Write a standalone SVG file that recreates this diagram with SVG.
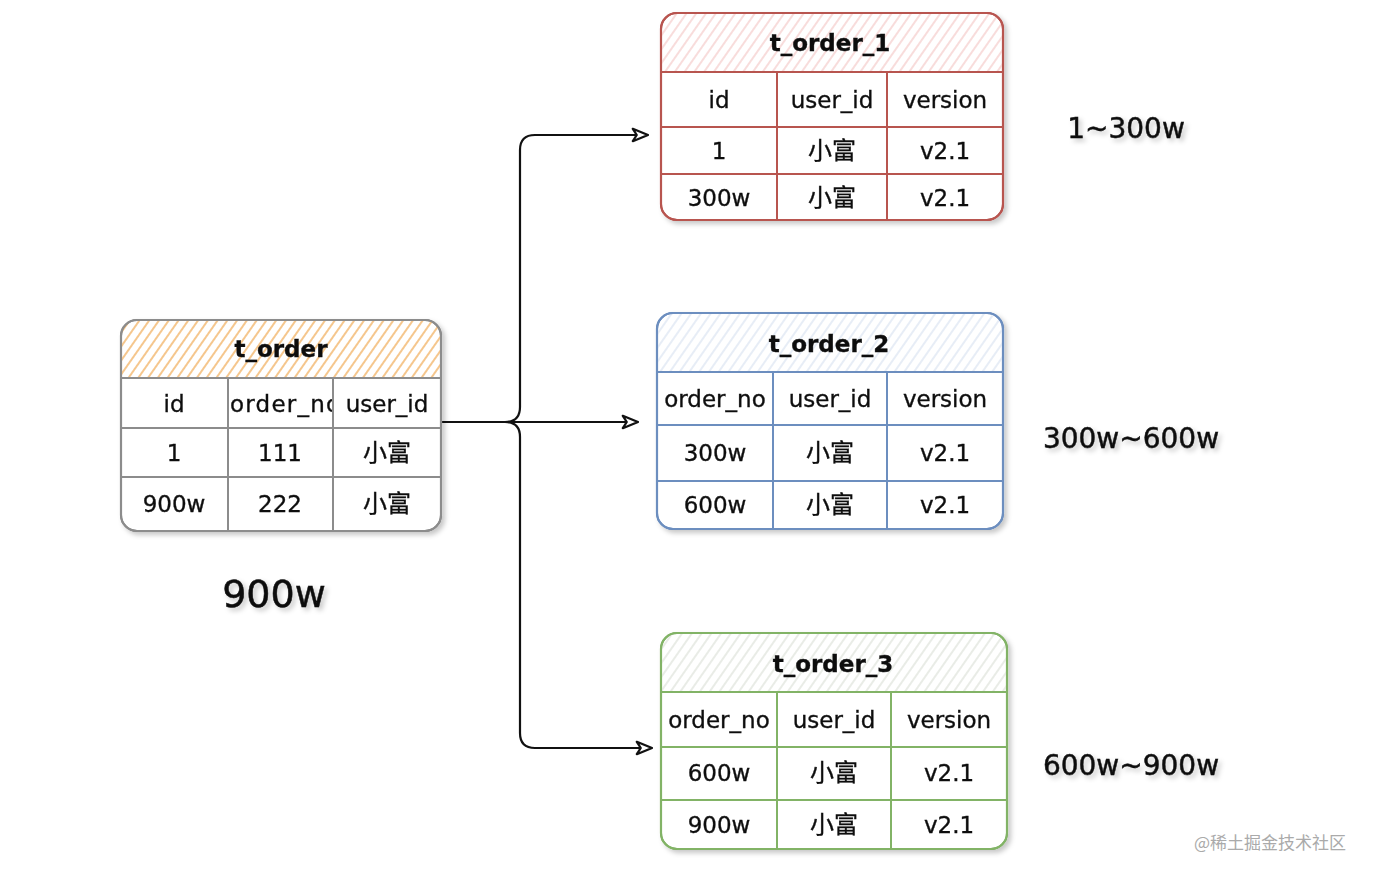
<svg xmlns="http://www.w3.org/2000/svg" width="1374" height="876" viewBox="0 0 1374 876">
<style>
.t{font-family:"DejaVu Sans","Noto Sans CJK SC",sans-serif;font-size:23px;fill:#111;stroke:#111;stroke-width:0.35;text-anchor:middle;dominant-baseline:central}
.h{font-weight:bold}
.cn{font-size:24px}
.big{font-family:"DejaVu Sans",sans-serif;font-size:28px;fill:#111;stroke:#111;stroke-width:0.5;text-anchor:middle;dominant-baseline:central}
.conn{fill:none;stroke:#111;stroke-width:2.2}
.g{stroke:#8c8c8c}
.r{stroke:#b85450}
.b{stroke:#6c8ebf}
.gr{stroke:#82b366}
.box{fill:#fff;stroke-width:2.2}
.ln{stroke-width:2;fill:none}
</style>
<defs>
<filter id="sh" x="-10%" y="-10%" width="130%" height="130%">
<feDropShadow dx="3" dy="3" stdDeviation="2.5" flood-color="#000" flood-opacity="0.22"/>
</filter>
<pattern id="ho" width="8" height="8" patternUnits="userSpaceOnUse" patternTransform="rotate(35)"><line x1="2" y1="0" x2="2" y2="8" stroke="#f0a850" stroke-width="1.3"/></pattern>
<pattern id="hr" width="8" height="8" patternUnits="userSpaceOnUse" patternTransform="rotate(35)"><line x1="2" y1="0" x2="2" y2="8" stroke="#f2c0be" stroke-width="1.1"/></pattern>
<pattern id="hb" width="8" height="8" patternUnits="userSpaceOnUse" patternTransform="rotate(35)"><line x1="2" y1="0" x2="2" y2="8" stroke="#d3deee" stroke-width="1.1"/></pattern>
<pattern id="hg" width="8" height="8" patternUnits="userSpaceOnUse" patternTransform="rotate(35)"><line x1="2" y1="0" x2="2" y2="8" stroke="#d6ddd2" stroke-width="1.1"/></pattern>
<marker id="ar" viewBox="0 0 16 14" refX="15" refY="7" markerWidth="18" markerHeight="16" markerUnits="userSpaceOnUse" orient="auto">
<path d="M1.5,1.5 L15,7 L1.5,12.5 L5,7 Z" fill="#fff" stroke="#111" stroke-width="2" stroke-linejoin="round"/>
</marker>
<clipPath id="cno"><rect x="229" y="380" width="103" height="46"/></clipPath>
</defs>

<g id="connectors">
<path class="conn" d="M442,422 L505,422 Q520,422 520,407 L520,150 Q520,135 535,135 L648,135" marker-end="url(#ar)"/>
<path class="conn" d="M442,422 L638,422" marker-end="url(#ar)"/>
<path class="conn" d="M442,422 L505,422 Q520,422 520,437 L520,733 Q520,748 535,748 L652,748" marker-end="url(#ar)"/>
</g>

<g id="t_order" filter="url(#sh)">
<rect class="box g" x="121" y="320" width="320" height="211" rx="16"/>
<path d="M122,378 V336 Q122,321 137,321 H425 Q440,321 440,336 V378 Z" fill="url(#ho)"/>
<rect class="ln g" x="121" y="320" width="320" height="211" rx="16"/>
<path class="ln g" d="M121,378 H441 M121,428 H441 M121,477 H441 M228,378 V531 M333,378 V531"/>
<text class="t h" x="281" y="349">t_order</text>
<text class="t" x="174" y="404">id</text>
<text class="t" x="230" y="404" style="text-anchor:start" textLength="110" lengthAdjust="spacing" clip-path="url(#cno)">order_no</text>
<text class="t" x="387" y="404">user_id</text>
<text class="t" x="174" y="453">1</text>
<text class="t" x="280" y="453">111</text>
<text class="t cn" x="387" y="453">小富</text>
<text class="t" x="174" y="504">900w</text>
<text class="t" x="280" y="504">222</text>
<text class="t cn" x="387" y="504">小富</text>
</g>

<g id="t_order_1" filter="url(#sh)">
<rect class="box r" x="661" y="13" width="342" height="207" rx="16"/>
<path d="M662,72 V29 Q662,14 677,14 H987 Q1002,14 1002,29 V72 Z" fill="url(#hr)"/>
<rect class="ln r" x="661" y="13" width="342" height="207" rx="16"/>
<path class="ln r" d="M661,72 H1003 M661,127 H1003 M661,174 H1003 M777,72 V220 M887,72 V220"/>
<text class="t h" x="830" y="43">t_order_1</text>
<text class="t" x="719" y="100">id</text>
<text class="t" x="832" y="100">user_id</text>
<text class="t" x="945" y="100">version</text>
<text class="t" x="719" y="151">1</text>
<text class="t cn" x="832" y="151">小富</text>
<text class="t" x="945" y="151">v2.1</text>
<text class="t" x="719" y="198">300w</text>
<text class="t cn" x="832" y="198">小富</text>
<text class="t" x="945" y="198">v2.1</text>
</g>

<g id="t_order_2" filter="url(#sh)">
<rect class="box b" x="657" y="313" width="346" height="216" rx="16"/>
<path d="M658,372 V329 Q658,314 673,314 H987 Q1002,314 1002,329 V372 Z" fill="url(#hb)"/>
<rect class="ln b" x="657" y="313" width="346" height="216" rx="16"/>
<path class="ln b" d="M657,372 H1003 M657,425 H1003 M657,481 H1003 M773,372 V529 M887,372 V529"/>
<text class="t h" x="829" y="344">t_order_2</text>
<text class="t" x="715" y="399">order_no</text>
<text class="t" x="830" y="399">user_id</text>
<text class="t" x="945" y="399">version</text>
<text class="t" x="715" y="453">300w</text>
<text class="t cn" x="830" y="453">小富</text>
<text class="t" x="945" y="453">v2.1</text>
<text class="t" x="715" y="505">600w</text>
<text class="t cn" x="830" y="505">小富</text>
<text class="t" x="945" y="505">v2.1</text>
</g>

<g id="t_order_3" filter="url(#sh)">
<rect class="box gr" x="661" y="633" width="346" height="216" rx="16"/>
<path d="M662,692 V649 Q662,634 677,634 H991 Q1006,634 1006,649 V692 Z" fill="url(#hg)"/>
<rect class="ln gr" x="661" y="633" width="346" height="216" rx="16"/>
<path class="ln gr" d="M661,692 H1007 M661,747 H1007 M661,800 H1007 M777,692 V849 M891,692 V849"/>
<text class="t h" x="833" y="664">t_order_3</text>
<text class="t" x="719" y="720">order_no</text>
<text class="t" x="834" y="720">user_id</text>
<text class="t" x="949" y="720">version</text>
<text class="t" x="719" y="773">600w</text>
<text class="t cn" x="834" y="773">小富</text>
<text class="t" x="949" y="773">v2.1</text>
<text class="t" x="719" y="825">900w</text>
<text class="t cn" x="834" y="825">小富</text>
<text class="t" x="949" y="825">v2.1</text>
</g>

<g id="labels" filter="url(#sh)">
<text class="big" x="1126" y="128">1~300w</text>
<text class="big" x="1131" y="438">300w~600w</text>
<text class="big" x="1131" y="765">600w~900w</text>
<text class="big" x="274" y="594" style="font-size:38px">900w</text>
</g>

<text x="1270" y="841" style="font-family:'Noto Sans CJK SC',sans-serif;font-size:17px;fill:#aaa;text-anchor:middle;dominant-baseline:central">@稀土掘金技术社区</text>
</svg>
